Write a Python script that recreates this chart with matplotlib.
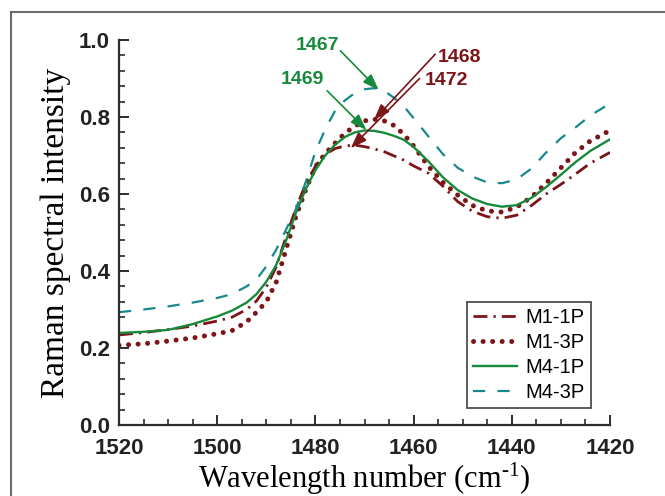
import matplotlib
matplotlib.use("Agg")
import matplotlib.pyplot as plt
from matplotlib.lines import Line2D
from matplotlib.ticker import MultipleLocator

plt.rcParams["mathtext.fontset"] = "custom"
plt.rcParams["mathtext.rm"] = "Liberation Serif"
plt.rcParams["mathtext.it"] = "Liberation Serif:italic"
plt.rcParams["mathtext.bf"] = "Liberation Serif:bold"

wavenumber = [1520, 1515, 1510, 1505, 1500, 1497, 1494, 1492, 1490, 1488, 1486, 1484,
              1482, 1480, 1478, 1476, 1474, 1472, 1470, 1468, 1466, 1464, 1462, 1460,
              1457, 1454, 1451, 1448, 1445, 1442, 1439, 1436, 1433, 1430, 1427, 1424, 1420]

m1_1p = [0.234, 0.240, 0.248, 0.257, 0.270, 0.280, 0.300, 0.322, 0.358, 0.410, 0.488, 0.562,
         0.625, 0.672, 0.703, 0.718, 0.725, 0.727, 0.723, 0.717, 0.710, 0.699, 0.688, 0.673,
         0.654, 0.620, 0.580, 0.555, 0.541, 0.537, 0.545, 0.570, 0.600, 0.625, 0.652, 0.680, 0.708]

m1_3p = [0.207, 0.211, 0.218, 0.226, 0.237, 0.245, 0.268, 0.293, 0.320, 0.370, 0.455, 0.540,
         0.610, 0.671, 0.705, 0.732, 0.758, 0.776, 0.790, 0.794, 0.790, 0.778, 0.755, 0.725,
         0.672, 0.630, 0.597, 0.570, 0.556, 0.553, 0.566, 0.592, 0.628, 0.668, 0.708, 0.738, 0.765]

m4_1p = [0.239, 0.242, 0.247, 0.262, 0.282, 0.297, 0.318, 0.340, 0.372, 0.415, 0.478, 0.550,
         0.612, 0.662, 0.700, 0.728, 0.748, 0.760, 0.765, 0.764, 0.759, 0.751, 0.741, 0.722,
         0.685, 0.643, 0.610, 0.588, 0.574, 0.567, 0.571, 0.590, 0.618, 0.650, 0.683, 0.712, 0.742]

m4_3p = [0.293, 0.300, 0.308, 0.318, 0.330, 0.340, 0.360, 0.378, 0.412, 0.455, 0.507, 0.560,
         0.630, 0.710, 0.768, 0.816, 0.843, 0.862, 0.872, 0.875, 0.868, 0.850, 0.828, 0.797,
         0.750, 0.703, 0.668, 0.645, 0.630, 0.628, 0.638, 0.666, 0.708, 0.745, 0.773, 0.804, 0.835]

series_labels = ["M1-1P", "M1-3P", "M4-1P", "M4-3P"]
x_ticks = [1520, 1500, 1480, 1460, 1440, 1420]
y_ticks = [0.0, 0.2, 0.4, 0.6, 0.8, 1.0]

peak_labels = ["1467", "1469", "1468", "1472"]

RED = "#7b1518"
GREEN = "#17893a"
TEAL = "#17898c"

fig = plt.figure(figsize=(6.65, 4.96), dpi=100)
ax = fig.add_axes([119 / 665, 71 / 496, 491 / 665, 385 / 496])

ax.plot(wavenumber, m1_1p, color=RED, lw=2.0, dashes=[5, 2.2, 0.8, 2.2], label=series_labels[0])
ax.plot(wavenumber, m1_3p, color=RED, lw=3.6, dashes=[0.01, 1.9], dash_capstyle="round",
        label=series_labels[1])
ax.plot(wavenumber, m4_1p, color=GREEN, lw=1.7, label=series_labels[2])
ax.plot(wavenumber, m4_3p, color=TEAL, lw=1.6, dashes=[5.5, 5.5], label=series_labels[3])

ax.set_xlim(1520, 1420)
ax.set_ylim(0.0, 1.0)
ax.set_xticks(x_ticks)
ax.set_yticks(y_ticks)
ax.xaxis.set_minor_locator(MultipleLocator(5))
ax.yaxis.set_minor_locator(MultipleLocator(0.04))
ax.set_xticklabels([str(v) for v in x_ticks])
ax.set_yticklabels([f"{v:.1f}" for v in y_ticks])

for s in ["top", "right"]:
    ax.spines[s].set_visible(False)
for s in ["left", "bottom"]:
    ax.spines[s].set_linewidth(1.6)
    ax.spines[s].set_color("#2b2b2b")

ax.tick_params(which="major", direction="in", length=7, width=1.4, color="#2b2b2b",
               labelsize=16)
ax.tick_params(axis="x", which="major", pad=9)
ax.tick_params(axis="y", which="major", pad=6.5)
ax.tick_params(which="minor", direction="in", length=4, width=1.2, color="#2b2b2b")
for lab in ax.get_xticklabels() + ax.get_yticklabels():
    lab.set_fontfamily("Liberation Sans")
    lab.set_fontweight("bold")
    lab.set_color("#222222")

ax.set_xlabel("Wavelength number (cm$^{\\text{-}1}$)", family="Liberation Serif",
              fontsize=22, labelpad=2)
ax.set_ylabel("Raman spectral intensity", family="Liberation Serif", fontsize=24, labelpad=6)

ann_font = dict(family="Liberation Sans", fontweight="bold", fontsize=14)
arrow_kw = dict(arrowstyle="-|>,head_length=0.7,head_width=0.25", lw=1.2, shrinkA=0, shrinkB=0,
                mutation_scale=14)

ax.text(1479.6, 0.986, peak_labels[0], color=GREEN, ha="center", va="center", **ann_font)
ax.annotate("", xy=(1467.1, 0.870), xytext=(1474.9, 0.972),
            arrowprops=dict(color=GREEN, **arrow_kw))
ax.text(1482.6, 0.897, peak_labels[1], color=GREEN, ha="center", va="center", **ann_font)
ax.annotate("", xy=(1469.6, 0.766), xytext=(1477.6, 0.868),
            arrowprops=dict(color=GREEN, **arrow_kw))
ax.text(1450.7, 0.955, peak_labels[2], color=RED, ha="center", va="center", **ann_font)
ax.annotate("", xy=(1468.1, 0.792), xytext=(1455.6, 0.963),
            arrowprops=dict(color=RED, **arrow_kw))
ax.text(1453.3, 0.895, peak_labels[3], color=RED, ha="center", va="center", **ann_font)
ax.annotate("", xy=(1472.8, 0.719), xytext=(1458.8, 0.900),
            arrowprops=dict(color=RED, **arrow_kw))

leg = ax.legend(loc="lower right", bbox_to_anchor=(591 / 665, 88 / 496),
                bbox_transform=fig.transFigure, frameon=True, fancybox=False,
                prop={"family": "Liberation Sans", "size": 14.5}, handlelength=2.15,
                handletextpad=0.45, borderpad=0.3, labelspacing=0.3, borderaxespad=0)
leg.get_frame().set_edgecolor("#222222")
leg.get_frame().set_linewidth(1.3)

fig.add_artist(Line2D([11 / 665, 1.0], [1 - 12 / 496, 1 - 12 / 496], transform=fig.transFigure,
                      color="#6b6b6b", lw=1.5))
fig.add_artist(Line2D([11 / 665, 11 / 665], [0.0, 1 - 12 / 496], transform=fig.transFigure,
                      color="#6b6b6b", lw=1.5))

fig.savefig("out.png", dpi=100)
